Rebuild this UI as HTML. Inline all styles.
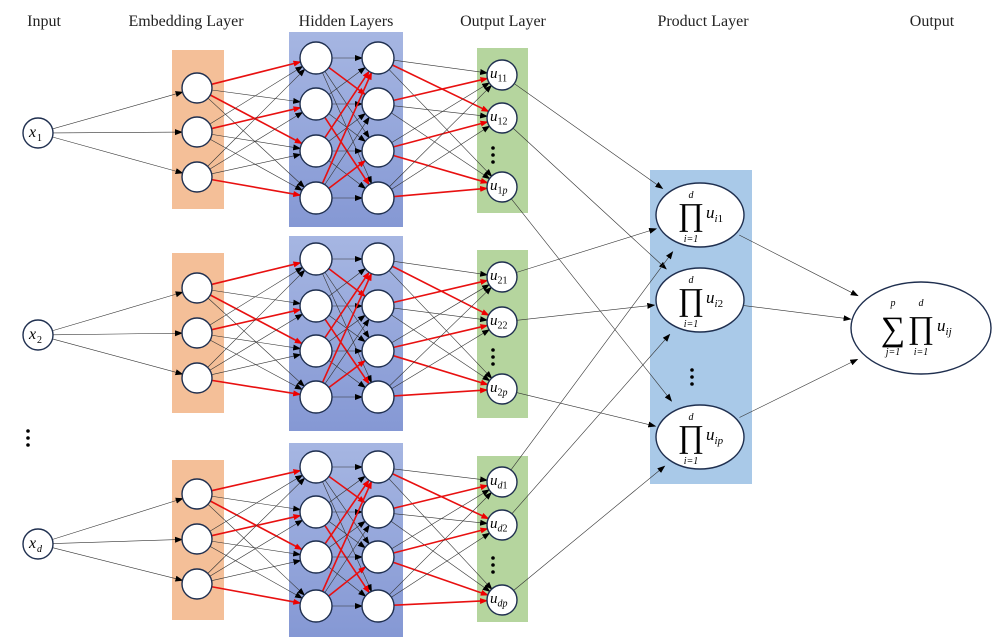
<!DOCTYPE html>
<html><head><meta charset="utf-8"><style>
html,body{margin:0;padding:0;background:#fff;width:1000px;height:641px;overflow:hidden}
svg text{font-family:"Liberation Serif",serif}
</style></head><body>
<svg id="s" width="1000" height="641" viewBox="0 0 1000 641" xmlns="http://www.w3.org/2000/svg">
<defs>
<marker id="a" markerWidth="8" markerHeight="8" refX="7" refY="3" orient="auto" markerUnits="userSpaceOnUse"><path d="M0,0 L8,3 L0,6 z" fill="#000"/></marker>
<marker id="r" markerWidth="8" markerHeight="8" refX="7" refY="3" orient="auto" markerUnits="userSpaceOnUse"><path d="M0,0 L8,3 L0,6 z" fill="#e00"/></marker>
</defs>
<g font-size="16" fill="#222" text-anchor="middle">
<text x="44" y="26">Input</text>
<text x="186" y="26">Embedding Layer</text>
<text x="346" y="26">Hidden Layers</text>
<text x="503" y="26">Output Layer</text>
<text x="703" y="26">Product Layer</text>
<text x="932" y="26">Output</text>
</g>
<g id="bg"></g><g id="ln"></g><g id="nd"></g>
</svg>
<script>
var NS="http://www.w3.org/2000/svg";
function el(p,t,a,txt){var e=document.createElementNS(NS,t);for(var k in a)e.setAttribute(k,a[k]);if(txt!=null)e.textContent=txt;document.getElementById(p).appendChild(e);return e;}
function line(x1,y1,x2,y2,r1,r2,red){var dx=x2-x1,dy=y2-y1,L=Math.sqrt(dx*dx+dy*dy);
el("ln","line",{x1:x1+dx/L*r1,y1:y1+dy/L*r1,x2:x2-dx/L*r2,y2:y2-dy/L*r2,stroke:red?"#e81010":"#333","stroke-width":red?1.6:0.6,"marker-end":red?"url(#r)":"url(#a)"});}
function circ(x,y,r){el("nd","circle",{cx:x,cy:y,r:r,fill:"#fff",stroke:"#1f2f4f","stroke-width":1.4});}
function dots(x,y){for(var i=0;i<3;i++)el("nd","circle",{cx:x,cy:y-7+i*7,r:1.8,fill:"#000"});}
function sublab(x,y,sz,sub,ssz){
 var t=el("nd","text",{x:x,y:y,"font-size":sz});
 var a=document.createElementNS(NS,"tspan");a.setAttribute("font-style","italic");a.textContent="u";t.appendChild(a);
 for(var i=0;i<sub.length;i++){var s=document.createElementNS(NS,"tspan");s.setAttribute("font-size",ssz);
  if(i==0)s.setAttribute("dy",ssz*0.35);
  if(/[a-z]/.test(sub[i]))s.setAttribute("font-style","italic");s.textContent=sub[i];t.appendChild(s);}
}
var blocks=[
 {in:133,lab:"1",org:[50,209],hid:[32,227],emb:[88,132,177],h:[58,104,151,198],gr:[48,213],u:[75,118,187],d:155},
 {in:335,lab:"2",org:[253,413],hid:[236,431],emb:[288,333,378],h:[259,306,351,397],gr:[250,418],u:[277,322,389],d:357},
 {in:544,lab:"d",org:[460,620],hid:[443,637],emb:[494,539,584],h:[467,512,557,606],gr:[456,622],u:[482,525,600],d:565}];
var PY=[215,300,437];
el("bg","rect",{x:650,y:170,width:102,height:314,fill:"#a9c9e8"});
blocks.forEach(function(b,bi){
 el("bg","rect",{x:172,y:b.org[0],width:52,height:b.org[1]-b.org[0],fill:"#f4bf98"});
 var g=el("bg","linearGradient",{id:"hg"+bi,x1:0,y1:0,x2:0,y2:1});
 var s1=document.createElementNS(NS,"stop");s1.setAttribute("offset","0");s1.setAttribute("stop-color","#a6b6e2");g.appendChild(s1);
 var s2=document.createElementNS(NS,"stop");s2.setAttribute("offset","1");s2.setAttribute("stop-color","#8598d4");g.appendChild(s2);
 el("bg","rect",{x:289,y:b.hid[0],width:114,height:b.hid[1]-b.hid[0],fill:"url(#hg"+bi+")"});
 el("bg","rect",{x:477,y:b.gr[0],width:51,height:b.gr[1]-b.gr[0],fill:"#b5d59e"});
 b.emb.forEach(function(y){line(38,b.in,197,y,15,15);});
 var redE={"0-0":1,"0-2":1,"1-1":1,"2-3":1};
 b.emb.forEach(function(y,i){b.h.forEach(function(y2,j){line(197,y,316,y2,15,16,redE[i+"-"+j]);});});
 var redH={"0-1":1,"1-3":1,"2-0":1,"3-0":1,"3-2":1};
 b.h.forEach(function(y,i){b.h.forEach(function(y2,j){line(316,y,378,y2,16,16,redH[i+"-"+j]);});});
 var redO={"0-1":1,"1-0":1,"2-1":1,"2-2":1,"3-2":1};
 b.h.forEach(function(y,i){b.u.forEach(function(y2,j){line(378,y,502,y2,16,15,redO[i+"-"+j]);});});
 b.u.forEach(function(y,j){line(502,y,700,PY[j],15,46);});
 circ(38,b.in,15);
 el("nd","text",{x:29,y:b.in+4,"font-size":16,"font-style":"italic"},"x");
 el("nd","text",{x:37,y:b.in+8,"font-size":10,"font-style":b.lab=="d"?"italic":"normal"},b.lab);
 b.emb.forEach(function(y){circ(197,y,15);});
 b.h.forEach(function(y){circ(316,y,16);circ(378,y,16);});
 var sub=[b.lab+"1",b.lab+"2",b.lab+"p"];
 b.u.forEach(function(y,j){circ(502,y,15);sublab(490,y+3,15,sub[j],10);});
 dots(493,b.d);
});
dots(28,438);
PY.forEach(function(y){line(700,y,921,328,44,71);});
var ps=["1","2","p"];
PY.forEach(function(y,j){
 el("nd","ellipse",{cx:700,cy:y,rx:44,ry:32,fill:"#fff",stroke:"#1f2f4f","stroke-width":1.4});
 el("nd","text",{x:691,y:y+10,"font-size":32,"text-anchor":"middle"},"\u220F");
 el("nd","text",{x:691,y:y-17,"font-size":10,"font-style":"italic","text-anchor":"middle"},"d");
 el("nd","text",{x:691,y:y+27,"font-size":10,"font-style":"italic","text-anchor":"middle"},"i=1");
 sublab(706,y+3,17,"i"+ps[j],11);
});
dots(692,377);
el("nd","ellipse",{cx:921,cy:328,rx:70,ry:46,fill:"#fff",stroke:"#1f2f4f","stroke-width":1.4});
el("nd","text",{x:893,y:340,"font-size":34,"text-anchor":"middle"},"\u2211");
el("nd","text",{x:921,y:338,"font-size":32,"text-anchor":"middle"},"\u220F");
el("nd","text",{x:893,y:306,"font-size":10,"font-style":"italic","text-anchor":"middle"},"p");
el("nd","text",{x:921,y:306,"font-size":10,"font-style":"italic","text-anchor":"middle"},"d");
el("nd","text",{x:893,y:355,"font-size":10,"font-style":"italic","text-anchor":"middle"},"j=1");
el("nd","text",{x:921,y:355,"font-size":10,"font-style":"italic","text-anchor":"middle"},"i=1");
sublab(937,331,17,"ij",11);
</script>
</body></html>
